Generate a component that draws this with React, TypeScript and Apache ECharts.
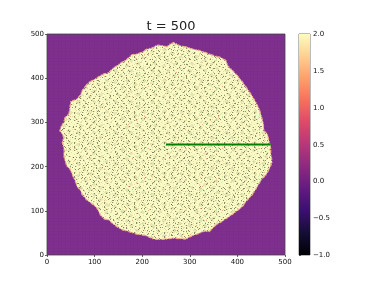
import React, { useEffect, useRef } from "react";
import * as echarts from "echarts";

const title = "t = 500";
const axisTicks = [0, 100, 200, 300, 400, 500];
const colorbarTicks = [-1, -0.5, 0, 0.5, 1, 1.5, 2];

// Outline of the grown region (data units).
const outlineX = [252,241,231,220,210,200,189,178,168,157,147,138,130,120,112,101,88,80,74,70,63,50,48,46,38,35,29,27,32,35,32,34,36,35,38,42,48,55,60,63,70,74,83,91,98,105,112,119,130,137,147,158,172,189,207,224,238,252,264,292,306,320,330,341,355,369,383,397,411,418,431,442,450,460,468,473,470,470,467,463,456,454,450,446,439,431,421,411,400,390,380,376,365,351,341,323,306,292,278,267,258];
const outlineY = [471,474,475,468,466,459,455,453,443,436,428,422,413,410,406,398,391,381,372,362,353,347,333,319,311,300,289,281,274,266,255,247,238,226,213,200,195,177,166,155,147,136,125,119,113,106,91,82,79,72,64,57,53,47,44,36,35,36,38,36,44,49,54,53,68,77,87,98,110,121,136,155,170,181,196,211,230,245,255,274,281,300,315,330,345,360,376,391,406,417,428,440,447,451,455,462,466,471,474,481,477];

// Probe line drawn in green.
const probeX = [250, 470];
const probeY = [250, 250];

// Colour scale of the field.
const colorMin = -1;
const colorMax = 2;
const magma = ["#000004","#140e36","#3b0f70","#641a80","#8c2981","#b73779","#de4968","#f7705c","#fe9f6d","#fecf92","#fcfdbf"];

// The per-cell speckle cannot be read value by value at this size, so it is
// approximated by hand-typed repeating textures, not by real cell values.
const speckleTile = [
  "..-.:::...-...#:.-....:..-..--",
  ".:..#-..#...-....:.-.:...#:...",
  "..:#:...-..:...-....::.....:-.",
  "-...-.:..:..-...:#:....-..:#..",
  "..:.-.#...-...:....:-.....#:..",
  "#:....-:....-...-..:...:....-.",
  "...-.:..:#:....:....#..-.:...:",
  ".-...-...-..:#...-.#:....-...#",
  ":..##.-....-..-....:::-....#..",
  "..:-....:...:..#..-....:..:...",
  ".#:...-.#..-.....:.:...#:....-",
  "...:...:.#:..:.-.....-..:.-...",
  "-.....-..:..-...::.#.....:..#.",
  ".:-.#...::...:..#:..-.:..#....",
  ":...:...-..#:.-....::....-.#:.",
  "...-.:#...:..:...-.:...#:.....",
  ".#:....-.-.....#:...-.:...-.:.",
  "...::.#...:.#.....-...:.#:..#.",
  "-..:..#:......:..-.#:.-.....-.",
  "..:.-...-.:..-.:..#.....:...:.",
  ".#....:.#...-...:....-.#.:.#..",
  ".-.#:...:#.....-..-..:..-..:..",
  "...-..:.....:.#:....:.#:..:.-.",
  ":..:...#-..:..#.-..:....-...#.",
  "..#:-.....:.-......:.#.....#:.",
  ".:....-.#:.....:-..:..#.:.....",
  ".:..#....-..:.#...:.-.....-..-",
  "..:-.#..:...-.#:......:..#:...",
  "-.....:.-#.....:-.:..#..#..:..",
  "#.:...:...#..:..#:...-..:..-.:",
];
const mottleTile = [
  "      xx         p         xxx       ",
  "     xxxx               xxxxx        ",
  "  y   xxx      xx        xxx        y",
  "       x      xxxx   p    x          ",
  "              xxx                    ",
  "p     y        x         y     xx    ",
  "                              xxxx   ",
  "   xxx             xx          xx    ",
  "  xxxxx    p      xxxx               ",
  "   xxxx            xxx               ",
  "    xx      y       x       p        ",
  "                                 y   ",
  "         xx              xxx         ",
  "        xxxx            xxxxx        ",
  " y       xxx             xxx  p      ",
  "          x        p      x          ",
  "                                     ",
  "     p         xxx              xx   ",
  "              xxxxx    y       xxxx  ",
  "   xx          xxx              xxx  ",
  "  xxxx          x                x   ",
  "   xx                  xxx           ",
  "        y      p      xxxxx          ",
  "                       xxx       p   ",
  "p         xxx                        ",
  "         xxxxx     y           xx    ",
  "          xxx                 xxxx   ",
  "           x             p     xx    ",
  "    y              xx                ",
  "                  xxxx               ",
  "                   xx                ",
];
const backgroundTile = [
  "abaaabaaaaba",
  "bcbbbcbbbbcb",
  "abaaabaaaaba",
  "abaaabaaaaba",
  "bcbbbcbbbbcb",
  "abaaabaaaaba",
  "abaaabaaaaba",
  "abaaabaaaaba",
  "bcbbbcbbbbcb",
  "abaaabaaaaba",
];
const speckleColors: Record<string, string> = { ".": "#fbfbc6", "-": "#f3f3bb", ":": "#dcdcaa", "#": "#8b8a69" };
const mottleColors: Record<string, string> = { " ": "rgba(0,0,0,0)", x: "rgba(110,110,70,0.14)", y: "rgba(60,60,40,0.55)", p: "rgba(245,160,120,0.8)" };
const backgroundColors: Record<string, string> = { a: "#7f308e", b: "#7c2e8b", c: "#7a2d89" };

function makePattern(rows: string[], colors: Record<string, string>) {
  const canvas = document.createElement("canvas");
  canvas.width = rows[0].length;
  canvas.height = rows.length;
  const ctx = canvas.getContext("2d")!;
  rows.forEach((row, y) => {
    for (let x = 0; x < row.length; x++) {
      ctx.fillStyle = colors[row[x]];
      ctx.fillRect(x, y, 1, 1);
    }
  });
  return { image: canvas.toDataURL(), repeat: "repeat", imageWidth: canvas.width, imageHeight: canvas.height };
}

const font = "DejaVu Sans";
const labelStyle = { fontFamily: font, fontSize: 7, color: "#111", margin: 3 };
const tickStyle = { show: true, length: 2, lineStyle: { color: "#222", width: 0.7 } };

export default function App() {
  const ref = useRef<HTMLDivElement>(null);
  useEffect(() => {
    const chart = echarts.init(ref.current!, undefined, { renderer: "svg" });
    const speckle = makePattern(speckleTile, speckleColors);
    const mottle = makePattern(mottleTile, mottleColors);
    const background = makePattern(backgroundTile, backgroundColors);
    chart.setOption({
      animation: false,
      backgroundColor: "#fff",
      title: {
        text: title,
        left: 166,
        top: 14,
        textAlign: "center",
        textStyle: { fontFamily: font, fontSize: 13, fontWeight: "normal", color: "#222" },
      },
      grid: [
        { left: 47, top: 34, width: 238, height: 221, show: true, backgroundColor: background, borderColor: "#444", borderWidth: 0.8 },
        { left: 299, top: 34, width: 11, height: 221, show: true, backgroundColor: "transparent", borderColor: "#555", borderWidth: 0.8 },
      ],
      xAxis: [
        { gridIndex: 0, type: "value", min: axisTicks[0], max: axisTicks[5], interval: 100, splitLine: { show: false }, axisLine: { show: false }, axisTick: tickStyle, axisLabel: labelStyle },
        { gridIndex: 1, type: "value", min: 0, max: 1, show: false },
      ],
      yAxis: [
        { gridIndex: 0, type: "value", min: axisTicks[0], max: axisTicks[5], interval: 100, splitLine: { show: false }, axisLine: { show: false }, axisTick: tickStyle, axisLabel: labelStyle },
        {
          gridIndex: 1, type: "value", position: "right", min: colorbarTicks[0], max: colorbarTicks[6], interval: 0.5,
          splitLine: { show: false }, axisLine: { show: false }, axisTick: tickStyle,
          axisLabel: { ...labelStyle, formatter: (v: number) => v.toFixed(1).replace("-", "\u2212") },
        },
      ],
      series: [
        {
          type: "custom", xAxisIndex: 0, yAxisIndex: 0, z: 2, silent: true,
          data: [[outlineX[0], outlineY[0]]],
          renderItem: (_: any, api: any) => {
            const points = outlineX.map((x, i) => api.coord([x, outlineY[i]]));
            return {
              type: "group",
              children: [
                { type: "polygon", shape: { points }, style: { fill: speckle } },
                { type: "polygon", shape: { points }, style: { fill: mottle } },
                { type: "polygon", shape: { points }, style: { fill: "none", stroke: "#f5a98a", lineWidth: 1.2, lineJoin: "round", lineDash: [3, 1, 1, 2] } },
              ],
            };
          },
        },
        {
          type: "line", xAxisIndex: 0, yAxisIndex: 0, z: 3, silent: true, symbol: "none",
          data: probeX.map((x, i) => [x, probeY[i]]),
          lineStyle: { color: "#008000", width: 2.2, cap: "butt" },
        },
        {
          type: "custom", xAxisIndex: 1, yAxisIndex: 1, z: 2, silent: true,
          data: [[0, colorMin]],
          renderItem: (_: any, api: any) => {
            const a = api.coord([0, colorMax]);
            const b = api.coord([1, colorMin]);
            return {
              type: "rect",
              shape: { x: a[0], y: a[1], width: b[0] - a[0], height: b[1] - a[1] },
              style: {
                fill: new echarts.graphic.LinearGradient(0, 1, 0, 0, magma.map((color, i) => ({ offset: i / (magma.length - 1), color }))),
              },
            };
          },
        },
      ],
    });
    return () => chart.dispose();
  }, []);
  return (
    <div
      ref={ref}
      style={{ position: "fixed", left: 0, top: 0, width: 382, height: 287, filter: "blur(0.45px)" }}
    />
  );
}
